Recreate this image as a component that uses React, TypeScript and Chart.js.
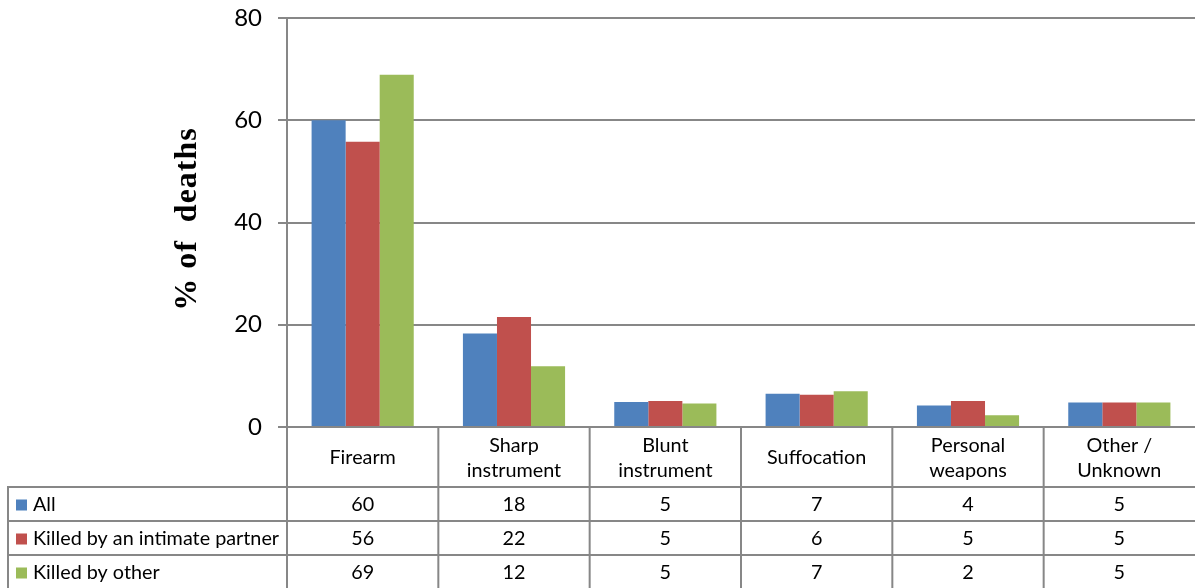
import React, { useEffect, useRef } from "react";
import { Chart, registerables } from "chart.js";

Chart.register(...registerables);

// Weapon categories (each entry holds the lines of its column header)
const categories: string[][] = [
  ["Firearm"],
  ["Sharp", "instrument"],
  ["Blunt", "instrument"],
  ["Suffocation"],
  ["Personal", "weapons"],
  ["Other /", "Unknown"],
];

const seriesNames = ["All", "Killed by an intimate partner", "Killed by other"];

// Percent of deaths by weapon type
const allValues = [60.0, 18.3, 4.9, 6.5, 4.2, 4.8];
const partnerValues = [55.8, 21.5, 5.1, 6.3, 5.1, 4.8];
const otherValues = [68.9, 11.9, 4.6, 7.0, 2.3, 4.8];

const yTicks = [0, 20, 40, 60, 80];
const yTitle = "% of  deaths";

const COLORS = ["#4F81BD", "#C0504D", "#9BBB59"];
const GRID = "#878787";
const W = 1195;
const H = 588;
const PLOT_TOP = 18;
const PLOT_BOTTOM = 427;

// Data table under the plot area, aligned with the category scale
const dataTablePlugin = {
  id: "dataTable",
  afterDraw(chart: any) {
    const { ctx, chartArea } = chart;
    const x = chart.scales.x;
    const n = categories.length;
    const bounds: number[] = [chartArea.left];
    for (let i = 1; i < n; i++) {
      bounds.push((x.getPixelForValue(i - 1) + x.getPixelForValue(i)) / 2);
    }
    bounds.push(chartArea.right);

    const top = chartArea.bottom;
    const headerBottom = top + 60;
    const rowH = 34;
    const tableLeft = 8;
    const bottom = H + 2;

    ctx.save();
    ctx.strokeStyle = GRID;
    ctx.lineWidth = 2;
    ctx.beginPath();
    // column separators
    for (let i = 0; i < n; i++) {
      ctx.moveTo(bounds[i], top);
      ctx.lineTo(bounds[i], bottom);
    }
    // left edge of the series column
    ctx.moveTo(tableLeft, headerBottom - 1);
    ctx.lineTo(tableLeft, bottom);
    // row separators
    for (let r = 0; r < 3; r++) {
      const y = headerBottom + r * rowH;
      ctx.moveTo(tableLeft - 1, y);
      ctx.lineTo(chartArea.right, y);
    }
    ctx.stroke();

    // header labels
    ctx.fillStyle = "#000";
    ctx.font = "19.8px Lato";
    ctx.textAlign = "center";
    ctx.textBaseline = "middle";
    const headerMid = (top + headerBottom) / 2 + 1;
    categories.forEach((lines, i) => {
      const cx = (bounds[i] + bounds[i + 1]) / 2;
      const lh = 25;
      const y0 = headerMid - ((lines.length - 1) * lh) / 2;
      lines.forEach((ln, k) => ctx.fillText(ln, cx, y0 + k * lh));
    });

    // series rows
    const rows = [allValues, partnerValues, otherValues];
    rows.forEach((vals, r) => {
      const cy = headerBottom + r * rowH + rowH / 2 + 1;
      ctx.fillStyle = COLORS[r];
      ctx.fillRect(16, cy - 5.5, 11, 11);
      ctx.fillStyle = "#000";
      ctx.textAlign = "left";
      ctx.fillText(seriesNames[r], 33, cy);
      ctx.textAlign = "center";
      vals.forEach((v, i) => {
        const cx = (bounds[i] + bounds[i + 1]) / 2;
        ctx.fillText(String(Math.round(v)), cx, cy);
      });
    });

    // y-axis title
    ctx.translate(188, 219);
    ctx.rotate(-Math.PI / 2);
    ctx.font = "bold 32px 'Liberation Serif'";
    (ctx as any).letterSpacing = "1px";
    ctx.textAlign = "center";
    ctx.textBaseline = "middle";
    ctx.fillText(yTitle, 0, 0);
    ctx.restore();
  },
};

export default function App() {
  const ref = useRef<HTMLCanvasElement>(null);

  useEffect(() => {
    if (!ref.current) return;
    const chart = new Chart(ref.current, {
      type: "bar",
      data: {
        labels: categories.map((c) => c.join(" ")),
        datasets: [allValues, partnerValues, otherValues].map((d, i) => ({
          label: seriesNames[i],
          data: d,
          backgroundColor: COLORS[i],
          borderWidth: 0,
          categoryPercentage: 0.675,
          barPercentage: 1,
        })),
      },
      options: {
        responsive: false,
        animation: false,
        layout: { padding: { top: PLOT_TOP, bottom: H - PLOT_BOTTOM, left: 0, right: 0 } },
        plugins: {
          legend: { display: false },
          tooltip: { enabled: false },
          title: { display: false },
        },
        scales: {
          x: { display: false },
          y: {
            min: 0,
            max: 80,
            afterBuildTicks: (scale: any) => {
              scale.ticks = yTicks.map((v) => ({ value: v }));
            },
            afterFit: (scale: any) => {
              scale.width = 287;
              scale.paddingTop = 0;
              scale.paddingBottom = 0;
            },
            ticks: {
              color: "#000",
              font: { family: "Lato", size: 24 },
              padding: 16,
            },
            grid: {
              color: GRID,
              lineWidth: 2,
              tickLength: 9,
              drawTicks: true,
            },
            border: { color: GRID, width: 2 },
          },
        },
      },
      plugins: [dataTablePlugin],
    });
    return () => chart.destroy();
  }, []);

  return (
    <div style={{ position: "fixed", left: 0, top: 0, width: W, height: H, background: "#fff" }}>
      <canvas ref={ref} width={W} height={H} style={{ display: "block" }} />
    </div>
  );
}
